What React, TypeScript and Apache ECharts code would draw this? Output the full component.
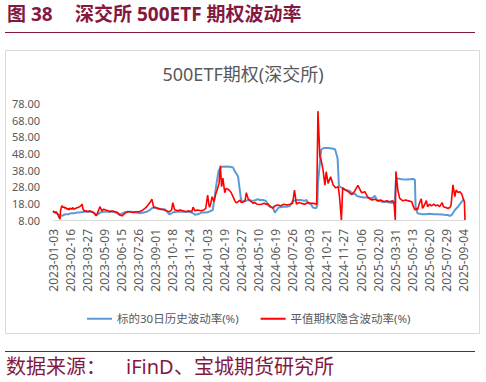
import React, { useEffect, useRef } from "react";
import * as echarts from "echarts";

// x = trading-day index from 2023-01-03; tick every 27 trading days
const tickLabels = [
  "2023-01-03", "2023-02-16", "2023-03-27", "2023-05-09", "2023-06-15", "2023-07-26",
  "2023-09-01", "2023-10-18", "2023-11-24", "2024-01-03", "2024-02-19", "2024-03-27",
  "2024-05-10", "2024-06-19", "2024-07-26", "2024-09-03", "2024-10-21", "2024-11-27",
  "2025-01-06", "2025-02-20", "2025-03-31", "2025-05-13", "2025-06-20", "2025-07-29",
  "2025-09-04",
];
const tickStep = 27;
const lastIndex = 650;

const seriesNames = ["标的30日历史波动率(%)", "平值期权隐含波动率(%)"];

const histVol: [number, number][] = [
  [0, 13], [3, 12.5], [8, 11.5], [11, 10.5], [14, 10.5], [17, 11], [20, 11.5], [24, 11.5],
  [28, 12], [33, 12], [38, 12.5], [42, 12.5], [49, 13], [55, 13], [61, 13], [66, 12],
  [68, 11], [71, 11.5], [74, 12.5], [80, 13], [87, 13], [93, 13], [99, 12.5], [104, 11.5],
  [107, 11.5], [112, 12.5], [118, 13], [124, 13], [131, 12.5], [137, 12], [143, 12.5],
  [148, 13], [153, 14], [156, 15], [159, 15.5], [164, 15], [170, 14.5], [176, 14.5],
  [181, 12.5], [184, 11.3], [189, 12.5], [194, 13], [200, 13], [206, 13], [213, 13],
  [219, 12.5], [224, 11.2], [228, 11.5], [232, 12], [235, 12.6], [240, 12.5], [244, 12.6],
  [249, 13.5], [252, 14], [255, 21.8], [258, 30], [261, 37], [263, 38.7], [266, 40],
  [273, 40.2], [279, 40], [284, 39.5], [287, 37.2], [290, 35.5], [292, 34], [294, 28],
  [296, 22], [298, 19], [303, 19.5], [309, 20], [315, 19.5], [320, 20], [323, 20.5],
  [326, 20], [331, 20], [336, 19.5], [339, 17], [342, 16], [347, 15.5], [350, 12.4],
  [353, 14], [356, 15.5], [363, 16], [369, 16], [374, 16.5], [378, 19.5], [385, 20],
  [391, 20], [397, 19.5], [400, 20], [403, 18], [407, 17.5], [410, 15.5], [415, 15],
  [417, 17], [418, 30], [421, 42], [423, 50.2], [427, 51.3], [434, 51.3], [440, 51],
  [445, 50.5], [449, 45], [451, 29], [452, 28], [456, 27.3], [462, 26], [468, 25.5],
  [473, 23.5], [476, 24], [479, 22.5], [484, 22], [490, 21.5], [497, 21.5], [503, 21],
  [508, 22.5], [511, 20], [514, 19.5], [519, 19], [525, 19], [531, 18.5], [538, 18],
  [539, 17.5], [541, 32.1], [544, 33], [550, 32.5], [557, 32.3], [563, 32.5], [569, 32.7],
  [571, 32], [572, 16], [575, 12], [582, 11.5], [588, 11.5], [594, 11.8], [601, 11.5],
  [607, 11.5], [614, 11.3], [620, 11], [623, 11], [626, 10.5], [629, 11], [634, 14],
  [639, 16], [642, 17.5], [645, 19], [648, 20.5],
];

const impliedVol: [number, number][] = [
  [0, 13.5], [1, 13], [3, 12.5], [5, 13], [8, 11], [9, 10], [11, 8.5], [12, 14], [14, 16.5],
  [16, 15.5], [17, 16], [19, 15], [20, 15.5], [22, 14.5], [24, 15], [25, 14], [27, 15],
  [30, 14.5], [31, 15.5], [33, 14.5], [36, 15], [39, 15.5], [42, 16], [44, 16.5], [46, 17.5],
  [47, 15], [49, 13.5], [52, 13.5], [55, 13], [58, 13.5], [61, 13], [64, 12.5], [66, 11.5],
  [68, 10.5], [69, 11], [72, 14], [74, 16], [76, 14.5], [77, 13.5], [80, 14.5], [83, 14],
  [87, 13.5], [90, 13], [93, 13.5], [98, 13], [102, 12.5], [105, 11], [109, 10.5],
  [112, 11.5], [115, 12.5], [118, 13], [121, 13], [126, 12.5], [131, 13], [135, 13],
  [140, 13.5], [145, 15], [148, 16], [150, 17], [153, 18.5], [156, 20.5], [158, 17],
  [159, 15.5], [161, 15.7], [165, 15], [171, 14.5], [176, 14], [181, 13.3], [184, 13],
  [187, 14], [189, 18.4], [191, 15.5], [192, 14.1], [197, 13.5], [200, 14], [205, 13.5],
  [210, 13], [214, 13.5], [219, 13], [221, 15.7], [224, 13.5], [228, 14], [233, 13.5],
  [238, 14], [241, 15], [244, 23], [246, 17], [247, 15.7], [249, 18], [251, 22], [254, 19],
  [257, 24], [259, 26], [262, 30], [264, 40.6], [266, 28], [268, 33.2], [271, 24.4],
  [273, 27], [276, 26.5], [279, 25.5], [281, 24.5], [284, 22], [287, 19.5], [289, 18.3],
  [292, 19], [295, 20], [297, 18.5], [300, 18.8], [303, 19.5], [305, 24.4], [308, 20.7],
  [311, 19.5], [313, 19], [316, 18], [318, 18.5], [322, 17.5], [326, 17.3], [329, 17.5],
  [333, 18], [336, 17.5], [339, 17.8], [342, 16.5], [347, 15], [350, 16.5], [355, 17],
  [359, 16.5], [364, 17.5], [369, 17], [374, 17.5], [378, 18], [381, 26], [384, 17.5],
  [388, 18.5], [392, 18], [397, 17.5], [402, 18.5], [407, 18], [411, 18], [416, 17.5],
  [418, 73.4], [421, 46.2], [423, 44], [426, 38.2], [429, 29], [431, 37], [434, 30],
  [438, 34], [442, 29], [446, 27.3], [450, 28], [452, 22], [455, 8], [457, 27.3],
  [460, 26.3], [465, 25.3], [471, 23.3], [476, 25.3], [481, 28.8], [487, 24.3], [492, 25],
  [494, 23.5], [497, 21.5], [503, 20], [508, 20.5], [512, 19.5], [517, 20], [522, 19],
  [527, 19.5], [531, 19], [536, 19.5], [538, 18.5], [540, 8], [541, 37.2], [544, 26],
  [547, 21], [552, 19.5], [556, 20], [561, 19.5], [566, 19], [568, 16.6], [571, 14],
  [574, 15], [575, 14], [578, 18], [581, 20.7], [583, 15], [586, 17], [589, 19.6],
  [591, 16], [594, 17.5], [597, 16.5], [601, 17.5], [604, 16.5], [607, 17], [610, 16],
  [614, 18.4], [616, 16], [620, 15.5], [623, 14.9], [626, 15.5], [628, 17], [631, 29.1],
  [634, 22], [636, 26], [639, 24.5], [642, 25], [645, 23.5], [647, 21], [649, 19], [650, 8],
];

const MAROON = "#84193F";
const GRAY = "#595959";

export default function App() {
  const ref = useRef<HTMLDivElement>(null);
  useEffect(() => {
    if (!ref.current) return;
    const chart = echarts.init(ref.current, undefined, { renderer: "svg" });
    const cjk = "'Noto Sans', 'Noto Sans CJK SC', sans-serif";
    chart.setOption({
      animation: false,
      textStyle: { fontFamily: cjk },
      title: {
        text: "500ETF期权(深交所)",
        left: "center",
        top: 60,
        textStyle: { color: GRAY, fontSize: 18, fontWeight: "normal", fontFamily: cjk },
      },
      graphic: [
        { type: "text", left: 7, top: 4, style: { text: "图 38", font: `bold 19px ${cjk}`, fill: MAROON } },
        { type: "text", left: 75, top: 4, style: { text: "深交所 500ETF 期权波动率", font: `bold 19px ${cjk}`, fill: MAROON } },
        { type: "line", shape: { x1: 5, y1: 32.5, x2: 475, y2: 32.5 }, style: { stroke: MAROON, lineWidth: 1 } },
        { type: "rect", shape: { x: 5.5, y: 50.5, width: 474, height: 283 }, style: { fill: "none", stroke: "#D9D9D9", lineWidth: 1 } },
        { type: "line", shape: { x1: 5, y1: 351.5, x2: 475, y2: 351.5 }, style: { stroke: MAROON, lineWidth: 1 } },
        { type: "text", left: 6, top: 356, style: { text: "数据来源：", font: `20px ${cjk}`, fill: MAROON } },
        { type: "text", left: 126, top: 356, style: { text: "iFinD", font: `20px ${cjk}`, fill: MAROON } },
        { type: "text", left: 174, top: 356, style: { text: "、宝城期货研究所", font: `20px ${cjk}`, fill: MAROON } },
      ],
      legend: {
        left: 82,
        top: 308,
        itemWidth: 25,
        itemHeight: 2,
        itemGap: 22,
        icon: "rect",
        textStyle: { color: GRAY, fontSize: 11.5, fontFamily: cjk },
        data: seriesNames,
      },
      grid: { left: 53, right: 21, top: 103.5, bottom: 162, containLabel: false },
      xAxis: {
        type: "value",
        min: 0,
        max: lastIndex,
        interval: tickStep,
        axisLine: { show: true, lineStyle: { color: "#D9D9D9", width: 1 } },
        axisTick: { show: false },
        splitLine: { show: false },
        axisLabel: {
          rotate: 90,
          margin: 9,
          color: GRAY,
          fontSize: 12,
          showMaxLabel: false,
          formatter: (v: number) => {
            const i = v / tickStep;
            return Number.isInteger(i) && tickLabels[i] ? tickLabels[i] : "";
          },
        },
      },
      yAxis: {
        type: "value",
        min: 8,
        max: 78,
        interval: 10,
        axisLine: { show: false },
        axisTick: { show: false },
        splitLine: { show: false },
        axisLabel: {
          color: GRAY,
          fontSize: 11,
          margin: 13,
          formatter: (v: number) => v.toFixed(2),
        },
      },
      series: [
        {
          name: seriesNames[0],
          type: "line",
          data: histVol,
          symbol: "none",
          lineStyle: { color: "#5B9BD5", width: 2 },
          itemStyle: { color: "#5B9BD5" },
        },
        {
          name: seriesNames[1],
          type: "line",
          data: impliedVol,
          symbol: "none",
          lineStyle: { color: "#FF0000", width: 1.6 },
          itemStyle: { color: "#FF0000" },
        },
      ],
    });
    return () => chart.dispose();
  }, []);
  return (
    <div
      ref={ref}
      style={{ position: "absolute", left: 0, top: 0, width: 486, height: 382, background: "#fff" }}
    />
  );
}
